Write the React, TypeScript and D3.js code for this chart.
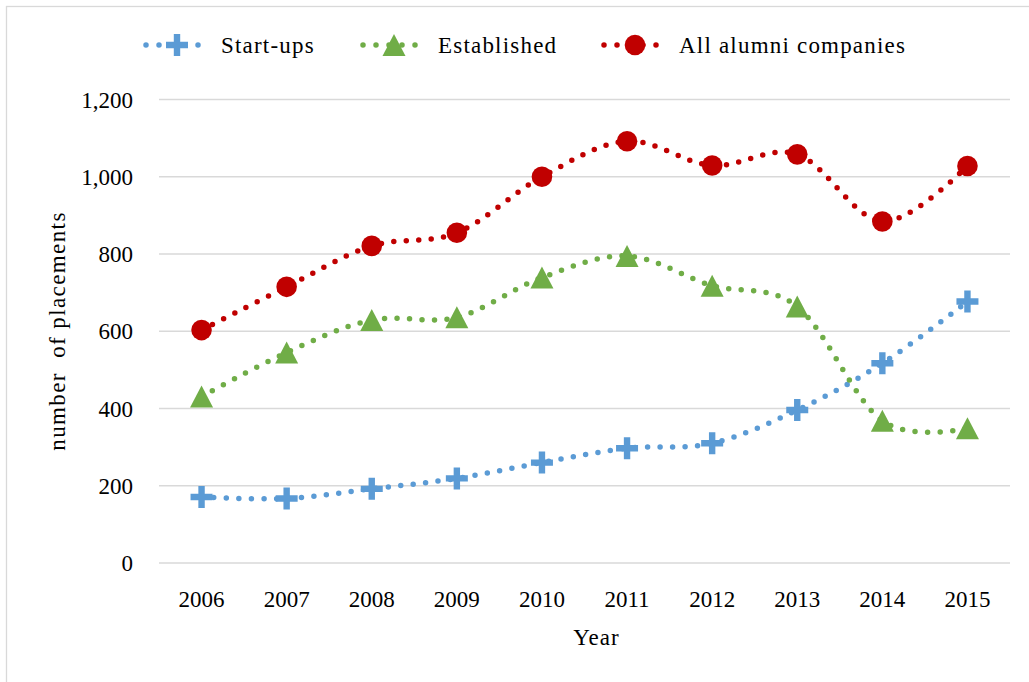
import React from "react";
import * as d3 from "d3";

const years = ["2006", "2007", "2008", "2009", "2010", "2011", "2012", "2013", "2014", "2015"];
const startups = [171, 167, 192, 219, 260, 297, 310, 396, 517, 677];
const established = [431, 545, 629, 636, 739, 795, 718, 664, 368, 349];
const allAlumni = [603, 715, 821, 855, 1000, 1092, 1029, 1058, 884, 1028];
const yTicks = [0, 200, 400, 600, 800, 1000, 1200];
const seriesNames = ["Start-ups", "Established", "All alumni companies"];
const seriesColors = ["#5B9BD5", "#70AD47", "#C00000"];
const seriesShapes = ["plus", "triangle", "circle"];

const W = 1029;
const H = 682;
const left = 159;
const right = 1010;
const top = 99.5;
const bottom = 563;
const FONT = "'Liberation Serif', 'Times New Roman', serif";

function Marker({ shape, x, y, color }: { shape: string; x: number; y: number; color: string }) {
  if (shape === "circle") return <circle cx={x} cy={y} r={10.3} fill={color} />;
  if (shape === "triangle") {
    const w = 23, h = 22;
    return (
      <path
        d={`M${x},${y - h / 2}L${x + w / 2},${y + h / 2}L${x - w / 2},${y + h / 2}Z`}
        fill={color}
      />
    );
  }
  const s = 11, t = 3.2;
  return (
    <path
      d={`M${x - t},${y - s}H${x + t}V${y - t}H${x + s}V${y + t}H${x + t}V${y + s}H${x - t}V${y + t}H${x - s}V${y - t}H${x - t}Z`}
      fill={color}
    />
  );
}

export default function App() {
  const x = d3.scalePoint<string>().domain(years).range([left, right]).padding(0.5);
  const y = d3.scaleLinear().domain([0, 1200]).range([bottom, top]);
  const data = [startups, established, allAlumni];
  const line = d3
    .line<number>()
    .x((_, i) => x(years[i]) as number)
    .y((v) => y(v))
    .curve(d3.curveCatmullRom.alpha(0));
  const fmt = d3.format(",");

  const legendX = [177, 394, 635];

  return (
    <svg
      width={W}
      height={H}
      style={{ position: "fixed", left: 0, top: 0, background: "#fff" }}
      fontFamily={FONT}
    >
      <rect x={6.5} y={6.5} width={1100} height={700} fill="#fff" stroke="#D9D9D9" strokeWidth={1.3} />
      {yTicks.map((t) => (
        <g key={t}>
          <line x1={left} x2={right} y1={y(t)} y2={y(t)} stroke="#D9D9D9" strokeWidth={1.5} />
          <text x={133} y={y(t)} dy="0.35em" textAnchor="end" fontSize={23} fill="#000">
            {fmt(t)}
          </text>
        </g>
      ))}
      {years.map((yr) => (
        <text key={yr} x={x(yr)} y={607} textAnchor="middle" fontSize={23} fill="#000">
          {yr}
        </text>
      ))}
      <text x={(left + right) / 2 + 12} y={645} textAnchor="middle" fontSize={23} letterSpacing={1} fill="#000">
        Year
      </text>
      <text
        transform={`translate(65,${331}) rotate(-90)`}
        textAnchor="middle"
        fontSize={23}
        letterSpacing={1.4}
        fill="#000"
        style={{ whiteSpace: "pre" }}
      >
        {"number  of placements"}
      </text>
      {data.map((vals, si) => (
        <g key={si}>
          <path
            d={line(vals) || ""}
            fill="none"
            stroke={seriesColors[si]}
            strokeWidth={5.5}
            strokeLinecap="round"
            strokeDasharray="0 12.5"
          />
          {vals.map((v, i) => (
            <Marker key={i} shape={seriesShapes[si]} x={x(years[i]) as number} y={y(v)} color={seriesColors[si]} />
          ))}
        </g>
      ))}
      {seriesNames.map((name, si) => {
        const cx = legendX[si];
        return (
          <g key={name}>
            <line
              x1={cx - 31}
              x2={cx + 31}
              y1={45}
              y2={45}
              stroke={seriesColors[si]}
              strokeWidth={5.5}
              strokeLinecap="round"
              strokeDasharray="0 13"
            />
            <Marker shape={seriesShapes[si]} x={cx} y={45} color={seriesColors[si]} />
            <text x={cx + 44} y={45} dy="0.35em" fontSize={23} letterSpacing={1.2} fill="#000">
              {name}
            </text>
          </g>
        );
      })}
    </svg>
  );
}
